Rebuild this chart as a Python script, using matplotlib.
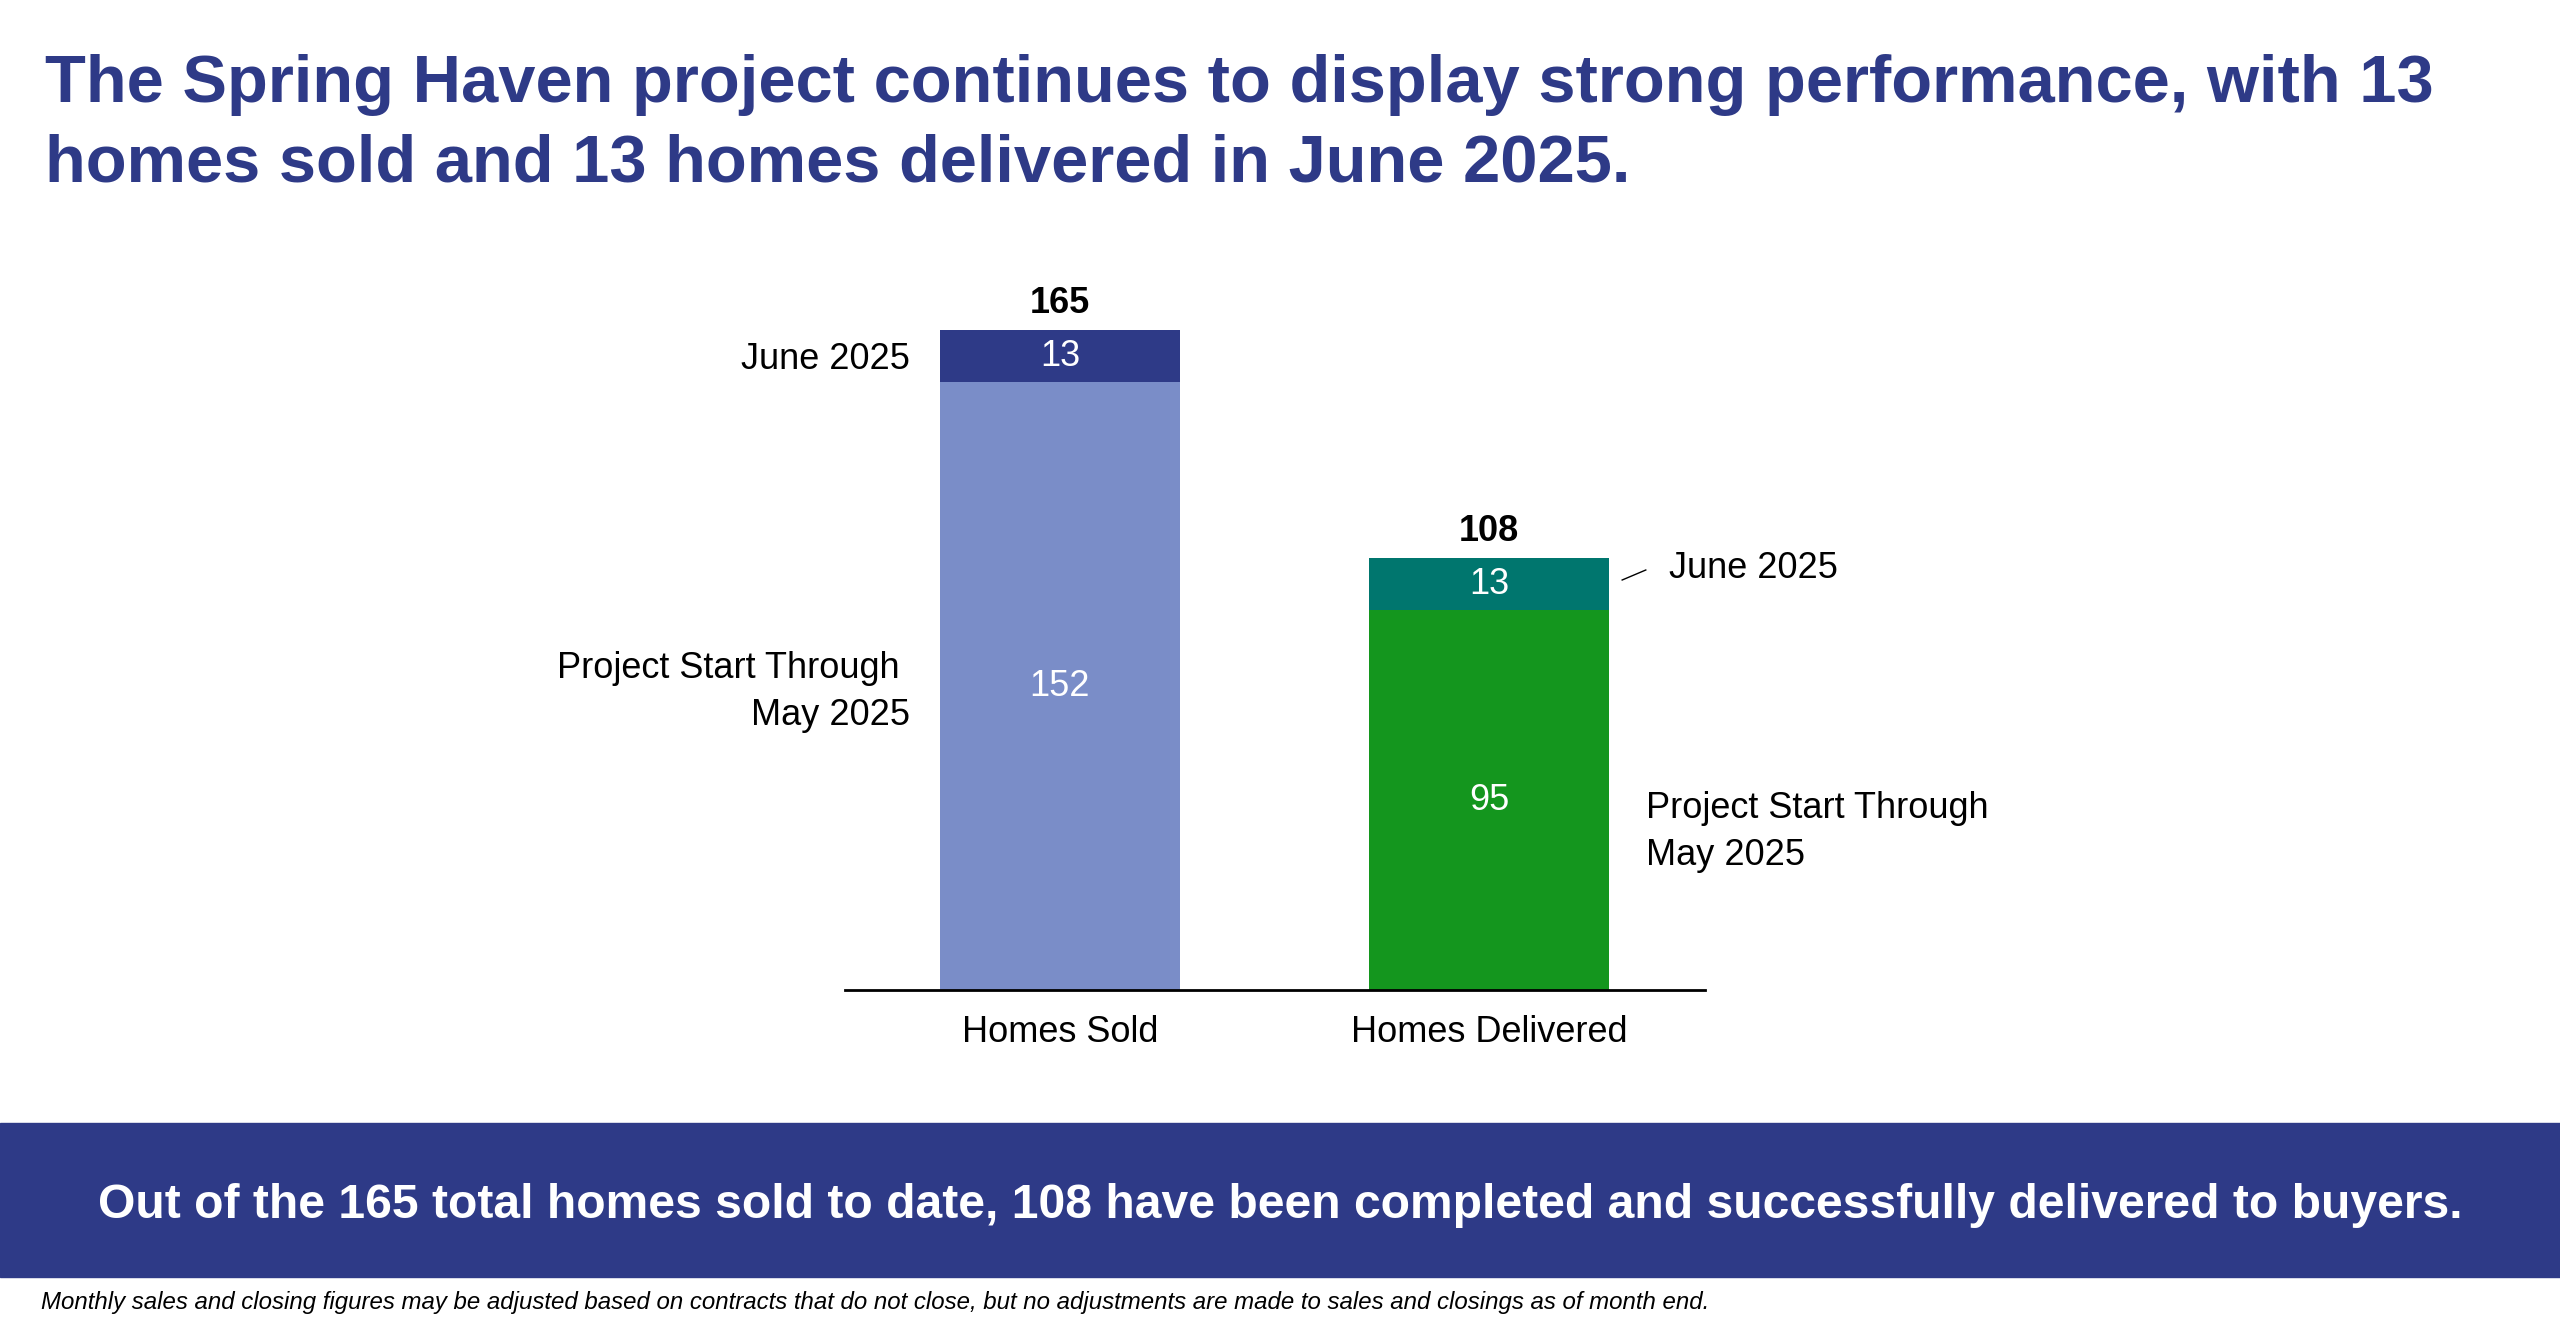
import matplotlib
matplotlib.use("Agg")
import matplotlib.pyplot as plt
from matplotlib.patches import Rectangle
from matplotlib.lines import Line2D

plt.rcParams['font.family'] = ['Liberation Sans', 'DejaVu Sans']

# data
categories = ["Homes Sold", "Homes Delivered"]
prior = [152, 95]          # project start through May 2025
june = [13, 13]            # June 2025
totals = [p + j for p, j in zip(prior, june)]

title_lines = ["The Spring Haven project continues to display strong performance, with 13",
               "homes sold and 13 homes delivered in June 2025."]
banner_text = ("Out of the 165 total homes sold to date, 108 have been completed "
               "and successfully delivered to buyers.")
footnote = ("Monthly sales and closing figures may be adjusted based on contracts that do not "
            "close, but no adjustments are made to sales and closings as of month end.")

navy = "#2E3A87"
prior_colors = ["#7A8DC8", "#14961E"]
june_colors = ["#2E3A87", "#00766E"]

W, H = 2560, 1322
fig = plt.figure(figsize=(W / 100, H / 100), dpi=100)


def fx(x):
    return x / W


def fy(y):
    return 1 - y / H


# title, one text per line so the baselines sit where they should
for line, base in zip(title_lines, [102, 182]):
    fig.text(fx(45), fy(base), line, color=navy, fontsize=48.2, fontweight='bold',
             ha='left', va='baseline')

# chart
ax = fig.add_axes([fx(845), fy(990), (1705 - 845) / W, (990 - 260) / H])
x = [0, 1]
bw = 0.56
ax.bar(x, prior, width=bw, color=prior_colors, zorder=2)
ax.bar(x, june, width=bw, bottom=prior, color=june_colors, zorder=2)
ax.set_xlim(-0.501, 1.503)
ax.set_ylim(0, 182.5)

for s in ['top', 'right', 'left']:
    ax.spines[s].set_visible(False)
ax.spines['bottom'].set_linewidth(2)
ax.spines['bottom'].set_color('black')
ax.set_yticks([])
ax.set_xticks(x)
ax.set_xticklabels(categories, fontsize=26)
ax.tick_params(axis='x', length=0, pad=18)

for i in range(2):
    ax.text(x[i], prior[i] / 2, str(prior[i]), color='white', fontsize=26,
            ha='center', va='center')
    ax.text(x[i], prior[i] + june[i] / 2, str(june[i]), color='white', fontsize=26,
            ha='center', va='center')
    ax.annotate(str(totals[i]), (x[i], totals[i]), xytext=(0, 19),
                textcoords='offset points', fontsize=26, fontweight='bold',
                ha='center', va='center')

# side labels, left bar
ax.text(x[0] - bw / 2 - 0.07, prior[0] + june[0] / 2 - 0.8, "June 2025", fontsize=26,
        ha='right', va='center')
ax.text(x[0] - bw / 2 - 0.07, prior[0] / 2 - 1.5, "Project Start Through \nMay 2025",
        fontsize=26, ha='right', va='center', multialignment='right', linespacing=1.43)

# side labels, right bar
ax.text(x[1] + bw / 2 + 0.14, prior[1] + june[1] / 2 + 4, "June 2025", fontsize=26,
        ha='left', va='center')
ax.add_line(Line2D([x[1] + bw / 2 + 0.03, x[1] + bw / 2 + 0.085],
                   [prior[1] + june[1] / 2 + 1, prior[1] + june[1] / 2 + 3.5],
                   color='black', lw=1))
ax.text(x[1] + bw / 2 + 0.085, prior[1] / 2 - 8, "Project Start Through\nMay 2025",
        fontsize=26, ha='left', va='center', linespacing=1.43)

# banner
fig.patches.append(Rectangle((0, fy(1277)), 1, (1277 - 1123) / H, color=navy,
                             transform=fig.transFigure, zorder=0))
fig.text(0.5, fy(1205), banner_text, color='white', fontsize=34.6, fontweight='bold',
         ha='center', va='center')

# footnote
fig.text(fx(41), fy(1303), footnote, fontsize=17.3, fontstyle='italic',
         ha='left', va='center')

fig.savefig("out.png", dpi=100, facecolor='white')
